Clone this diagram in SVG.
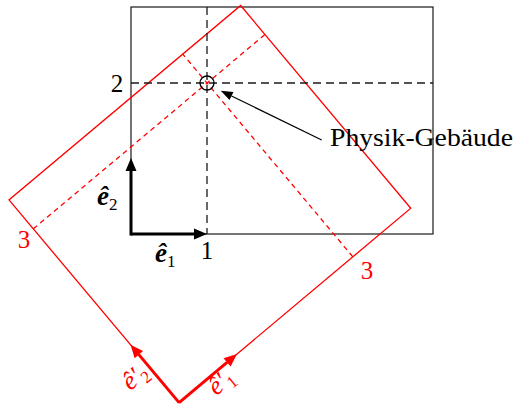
<svg xmlns="http://www.w3.org/2000/svg" width="518" height="408" viewBox="0 0 518 408">
<style>
  .frame{fill:none;stroke:#1a1a1a;stroke-width:1.2}
  .bdash{fill:none;stroke:#1a1a1a;stroke-width:1.3;stroke-dasharray:8,5}
  .rframe{fill:none;stroke:#ff0000;stroke-width:1.3}
  .rdash{fill:none;stroke:#ff0000;stroke-width:1.3;stroke-dasharray:5,4}
  .bvec{stroke:#000;stroke-width:3;fill:none}
  .rvec{stroke:#ff0000;stroke-width:3;fill:none}
  .thin{stroke:#000;stroke-width:1.2;fill:none}
  .t{font-family:"Liberation Serif","DejaVu Serif",serif;font-size:25px;fill:#000}
  .tr{font-family:"Liberation Serif","DejaVu Serif",serif;font-size:25px;fill:#ff0000}
  .vb{font-family:"Liberation Serif","DejaVu Serif",serif;font-size:27px;font-style:italic;font-weight:bold;fill:#000}
  .vr{font-family:"Liberation Serif","DejaVu Serif",serif;font-size:26px;font-style:italic;fill:#ff0000}
  .sub{font-style:normal;font-weight:normal;font-size:17px}
</style>
<defs>
  <marker id="ab" markerUnits="userSpaceOnUse" markerWidth="13" markerHeight="11" refX="0" refY="5.5" orient="auto" overflow="visible">
    <path d="M0,0 L13,5.5 L0,11 z" fill="#000"/>
  </marker>
  <marker id="ar" markerUnits="userSpaceOnUse" markerWidth="13" markerHeight="11" refX="0" refY="5.5" orient="auto" overflow="visible">
    <path d="M0,0 L13,5.5 L0,11 z" fill="#ff0000"/>
  </marker>
  <marker id="at" markerUnits="userSpaceOnUse" markerWidth="12" markerHeight="9" refX="0" refY="4.5" orient="auto" overflow="visible">
    <path d="M0,0 L12,4.5 L0,9 z" fill="#000"/>
  </marker>
</defs>

<g id="frame">
  <rect class="frame" x="131" y="7" width="302" height="227"/>
</g>

<g id="rotated-frame" transform="translate(179.1,402.6) rotate(-40)">
  <rect class="rframe" x="0" y="-264.6" width="302.4" height="264.6"/>
</g>

<g id="connectors">
  <line class="bdash" x1="207" y1="7" x2="207" y2="234"/>
  <line class="bdash" x1="131" y1="83" x2="433" y2="83"/>
  <g transform="translate(179.1,402.6) rotate(-40)">
    <line class="rdash" x1="0" y1="-226.8" x2="302.4" y2="-226.8"/>
    <line class="rdash" x1="226.8" y1="0" x2="226.8" y2="-264.6"/>
    <line class="rvec" x1="0" y1="0" x2="62.6" y2="0" marker-end="url(#ar)"/>
    <line class="rvec" x1="0" y1="0" x2="0" y2="-62.6" marker-end="url(#ar)"/>
  </g>
  <line class="bvec" x1="131" y1="234" x2="194" y2="234" marker-end="url(#ab)"/>
  <line class="bvec" x1="131" y1="235.5" x2="131" y2="171" marker-end="url(#ab)"/>
  <line class="thin" x1="321.7" y1="140" x2="231.5" y2="96" marker-end="url(#at)"/>
</g>

<g id="building">
  <circle cx="207" cy="83" r="7" fill="none" stroke="#000" stroke-width="1.3"/>
</g>

<g id="labels">
  <text class="t" x="207" y="259" text-anchor="middle">1</text>
  <text class="t" x="117" y="91.5" text-anchor="middle">2</text>
  <text class="vb" x="155" y="262">ê<tspan class="sub" dy="5">1</tspan></text>
  <text class="vb" x="97" y="205">ê<tspan class="sub" dy="5">2</tspan></text>
  <text class="t" x="330" y="145.7" textLength="183" lengthAdjust="spacingAndGlyphs">Physik-Gebäude</text>
  <text class="tr" x="24" y="248" text-anchor="middle">3</text>
  <text class="tr" x="367" y="279" text-anchor="middle">3</text>
  <g transform="translate(140,383) rotate(-40)">
    <text class="vr" x="0" y="0" text-anchor="middle">ê′<tspan class="sub" dy="5">2</tspan></text>
  </g>
  <g transform="translate(226,388) rotate(-40)">
    <text class="vr" x="0" y="0" text-anchor="middle">ê′<tspan class="sub" dy="5">1</tspan></text>
  </g>
</g>
</svg>
